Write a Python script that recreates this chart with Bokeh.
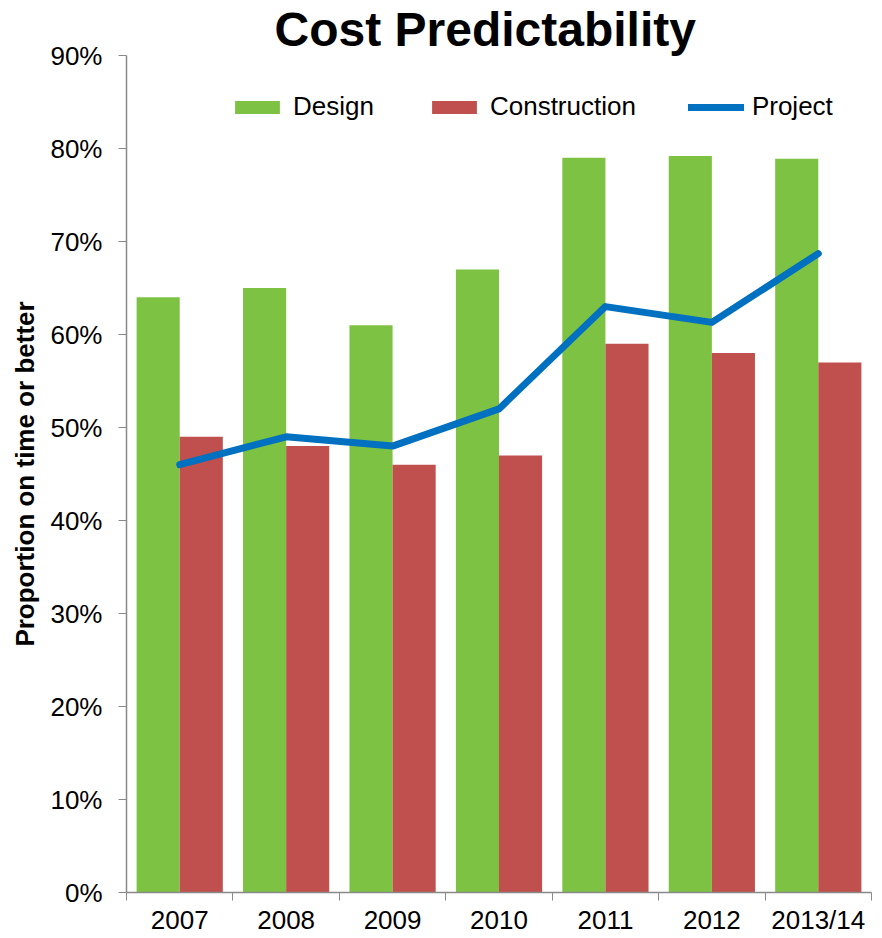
from bokeh.plotting import figure
from bokeh.models import (Range1d, FixedTicker, PrintfTickFormatter, Legend, LegendItem,
                          LinearAxis)
from bokeh.embed import file_html
from bokeh.resources import INLINE

# ---- data ----
years = ["2007", "2008", "2009", "2010", "2011", "2012", "2013/14"]
design = [64, 65, 61, 67, 79, 79.2, 78.9]
construction = [49, 48, 46, 47, 59, 58, 57]
project = [46, 49, 48, 52, 63, 61.3, 68.7]
y_ticks = [0, 10, 20, 30, 40, 50, 60, 70, 80, 90]

GREEN = "#7DC242"
RED = "#C0504D"
BLUE = "#0070C0"
AXIS = "#898989"
FONT = "Liberation Sans"

n = len(years)
centers = [i + 0.5 for i in range(n)]
bw = 0.405

p = figure(width=876, height=937, output_backend="svg", toolbar_location=None,
           x_range=Range1d(0, n), y_range=Range1d(0, 90),
           x_axis_type=None, y_axis_type=None,
           min_border_left=126, min_border_right=5, min_border_top=46, min_border_bottom=38)
p.outline_line_color = None
p.xgrid.visible = False
p.ygrid.visible = False
p.background_fill_color = "white"
p.border_fill_color = "white"

p.title.text = "Cost Predictability"
p.title.text_font = FONT
p.title.text_font_size = "48px"
p.title.text_font_style = "bold"
p.title.text_color = "black"
p.title.align = "left"
p.title.offset = 148
p.title.standoff = 0

r_design = p.vbar(x=[c - bw / 2 for c in centers], top=design, width=bw,
                  fill_color=GREEN, line_color=None)
r_constr = p.vbar(x=[c + bw / 2 for c in centers], top=construction, width=bw,
                  fill_color=RED, line_color=None)
r_proj = p.line(x=centers, y=project, line_color=BLUE, line_width=7, line_cap="round",
                line_join="round")

# axes
xaxis = LinearAxis(ticker=FixedTicker(ticks=centers, minor_ticks=list(range(n + 1))),
                   major_label_overrides={c: y for c, y in zip(centers, years)})
xaxis.major_tick_out = 0
xaxis.major_tick_in = 0
xaxis.minor_tick_out = 8
xaxis.minor_tick_in = 0
xaxis.minor_tick_line_color = AXIS
xaxis.axis_line_color = AXIS
xaxis.axis_line_width = 1.5
xaxis.major_label_text_font = FONT
xaxis.major_label_text_font_size = "26px"
xaxis.major_label_text_color = "black"
xaxis.major_label_standoff = 4
p.add_layout(xaxis, "below")

yaxis = LinearAxis(ticker=FixedTicker(ticks=y_ticks, minor_ticks=[]),
                   formatter=PrintfTickFormatter(format="%d%%"))
yaxis.major_tick_out = 8
yaxis.major_tick_in = 0
yaxis.major_tick_line_color = AXIS
yaxis.axis_line_color = AXIS
yaxis.axis_line_width = 1.5
yaxis.major_label_text_font = FONT
yaxis.major_label_text_font_size = "26px"
yaxis.major_label_text_color = "black"
yaxis.major_label_standoff = 16
yaxis.axis_label = "Proportion on time or better"
yaxis.axis_label_text_font = FONT
yaxis.axis_label_text_font_size = "26px"
yaxis.axis_label_text_font_style = "bold"
yaxis.axis_label_text_color = "black"
yaxis.axis_label_standoff = 7
p.add_layout(yaxis, "left")

# legend
legend = Legend(items=[LegendItem(label="Design", renderers=[r_design]),
                       LegendItem(label="Construction", renderers=[r_constr]),
                       LegendItem(label="Project", renderers=[r_proj])],
                orientation="horizontal", location=(103, 770),
                border_line_color=None, background_fill_alpha=0,
                padding=0, margin=0, spacing=52,
                glyph_width=56, glyph_height=16, label_standoff=8,
                label_text_font=FONT, label_text_font_size="26px",
                label_text_color="black")
p.add_layout(legend)

open("out.html", "w").write(file_html(p, INLINE))
